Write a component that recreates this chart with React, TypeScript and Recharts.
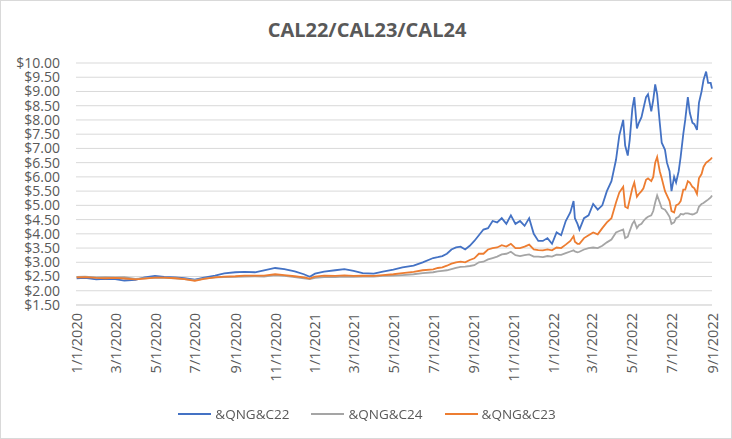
import React from 'react';
import { LineChart, Line, XAxis, YAxis, CartesianGrid } from 'recharts';

// trading dates (sampled from the curve)
const dates = [
  '2020-01-02', '2020-01-15', '2020-02-01', '2020-02-15', '2020-03-01', '2020-03-15',
  '2020-04-01', '2020-04-15', '2020-05-01', '2020-05-15', '2020-06-01', '2020-06-15',
  '2020-07-01', '2020-07-15', '2020-08-01', '2020-08-15', '2020-09-01', '2020-09-15',
  '2020-10-01', '2020-10-15', '2020-11-01', '2020-11-15', '2020-12-01', '2020-12-15',
  '2020-12-24',
  '2021-01-01', '2021-01-15', '2021-02-01', '2021-02-15', '2021-03-01', '2021-03-15',
  '2021-04-01', '2021-04-15', '2021-05-01', '2021-05-15', '2021-06-01', '2021-06-15',
  '2021-07-01', '2021-07-08', '2021-07-15', '2021-07-22', '2021-07-29', '2021-08-05',
  '2021-08-12', '2021-08-19', '2021-08-26', '2021-09-02', '2021-09-09', '2021-09-16',
  '2021-09-23', '2021-09-30', '2021-10-07', '2021-10-14', '2021-10-21', '2021-10-28',
  '2021-11-04', '2021-11-11', '2021-11-18', '2021-11-25', '2021-12-02', '2021-12-09',
  '2021-12-16', '2021-12-23', '2021-12-30',
  '2022-01-06', '2022-01-13', '2022-01-20', '2022-01-27', '2022-02-01', '2022-02-03',
  '2022-02-07', '2022-02-10', '2022-02-17', '2022-02-24', '2022-03-03', '2022-03-10',
  '2022-03-17', '2022-03-24', '2022-03-31', '2022-04-07', '2022-04-12', '2022-04-18',
  '2022-04-21', '2022-04-25', '2022-04-28', '2022-05-02', '2022-05-05', '2022-05-09',
  '2022-05-12', '2022-05-16', '2022-05-19', '2022-05-23', '2022-05-26', '2022-05-31',
  '2022-06-03', '2022-06-06', '2022-06-09', '2022-06-13', '2022-06-16', '2022-06-21',
  '2022-06-24', '2022-06-28', '2022-07-01', '2022-07-05', '2022-07-08', '2022-07-12',
  '2022-07-15', '2022-07-19', '2022-07-22', '2022-07-26', '2022-07-29', '2022-08-02',
  '2022-08-05', '2022-08-09', '2022-08-12', '2022-08-16', '2022-08-19', '2022-08-23',
  '2022-08-26', '2022-08-30', '2022-09-01',
];

const cal22 = [
  2.44, 2.45, 2.40, 2.42, 2.41, 2.36,
  2.38, 2.47, 2.52, 2.49, 2.47, 2.44,
  2.39, 2.46, 2.53, 2.61, 2.65, 2.66,
  2.65, 2.72, 2.80, 2.76, 2.68, 2.58,
  2.49,
  2.60, 2.67, 2.72, 2.76, 2.70, 2.62,
  2.60, 2.67, 2.74, 2.82, 2.88, 3.00,
  3.15, 3.18, 3.22, 3.30, 3.45, 3.52,
  3.55, 3.45, 3.58, 3.75, 3.95, 4.15,
  4.20, 4.45, 4.40, 4.55, 4.35, 4.65,
  4.35, 4.45, 4.28, 4.55, 4.00, 3.75,
  3.75, 3.85, 3.65,
  4.05, 3.95, 4.45, 4.75, 5.15, 4.55,
  4.35, 4.15, 4.55, 4.65, 5.05, 4.85,
  5.00, 5.50, 5.85, 6.60, 7.45, 8.00,
  7.10, 6.75, 7.30, 8.40, 8.80, 7.70,
  7.90, 8.10, 8.40, 8.80, 8.90, 8.30,
  8.70, 9.25, 8.90, 7.90, 7.20, 6.95,
  6.50, 6.20, 5.50, 6.00, 5.80, 6.20,
  6.70, 7.50, 8.00, 8.80, 8.25, 7.90,
  7.85, 7.65, 8.60, 9.00, 9.40, 9.70,
  9.30, 9.30, 9.10,
];

const cal23 = [
  2.47, 2.48, 2.45, 2.44, 2.45, 2.43,
  2.40, 2.43, 2.46, 2.46, 2.44, 2.41,
  2.35, 2.42, 2.47, 2.50, 2.51, 2.53,
  2.53, 2.53, 2.58, 2.55, 2.51, 2.47,
  2.43,
  2.50, 2.53, 2.52, 2.54, 2.52, 2.53,
  2.52, 2.55, 2.58, 2.62, 2.66, 2.72,
  2.75, 2.80, 2.82, 2.88, 2.95, 3.00,
  3.02, 3.00, 3.08, 3.14, 3.30, 3.30,
  3.45, 3.50, 3.52, 3.60, 3.55, 3.65,
  3.50, 3.50, 3.55, 3.62, 3.45, 3.43,
  3.42, 3.45, 3.42,
  3.52, 3.50, 3.62, 3.75, 3.92, 3.72,
  3.65, 3.65, 3.85, 3.95, 4.05, 3.98,
  4.20, 4.40, 4.55, 5.10, 5.45, 5.65,
  4.95, 4.90, 5.20, 5.60, 5.80, 5.30,
  5.40, 5.50, 5.60, 5.90, 5.95, 5.85,
  6.00, 6.50, 6.70, 6.20, 5.95, 5.50,
  5.35, 5.15, 4.80, 4.75, 5.00, 5.05,
  5.15, 5.55, 5.55, 5.85, 5.80, 5.65,
  5.60, 5.40, 5.95, 6.10, 6.35, 6.50,
  6.55, 6.62, 6.68,
];

const cal24 = [
  2.49, 2.50, 2.47, 2.48, 2.47, 2.48,
  2.42, 2.44, 2.46, 2.45, 2.44, 2.41,
  2.37, 2.43, 2.47, 2.48, 2.49, 2.50,
  2.51, 2.50, 2.55, 2.52, 2.48, 2.44,
  2.41,
  2.45, 2.48, 2.48, 2.50, 2.49, 2.50,
  2.50, 2.52, 2.53, 2.55, 2.58, 2.62,
  2.65, 2.68, 2.70, 2.72, 2.76, 2.80,
  2.84, 2.85, 2.87, 2.90, 3.00, 3.02,
  3.10, 3.15, 3.20, 3.28, 3.30, 3.37,
  3.25, 3.22, 3.25, 3.28, 3.20, 3.20,
  3.18, 3.22, 3.20,
  3.27, 3.26, 3.32, 3.38, 3.42, 3.38,
  3.35, 3.37, 3.45, 3.50, 3.52, 3.50,
  3.58, 3.70, 3.80, 4.05, 4.10, 4.15,
  3.85, 3.90, 4.10, 4.35, 4.45, 4.20,
  4.30, 4.35, 4.45, 4.55, 4.60, 4.65,
  4.80, 5.10, 5.35, 5.10, 4.90, 4.85,
  4.75, 4.60, 4.35, 4.40, 4.55, 4.60,
  4.70, 4.68, 4.72, 4.72, 4.70, 4.68,
  4.70, 4.75, 4.95, 5.05, 5.08, 5.15,
  5.20, 5.28, 5.35,
];

const tickDates = [
  '2020-01-01', '2020-03-01', '2020-05-01', '2020-07-01', '2020-09-01', '2020-11-01',
  '2021-01-01', '2021-03-01', '2021-05-01', '2021-07-01', '2021-09-01', '2021-11-01',
  '2022-01-01', '2022-03-01', '2022-05-01', '2022-07-01', '2022-09-01',
];
const tickLabels = [
  '1/1/2020', '3/1/2020', '5/1/2020', '7/1/2020', '9/1/2020', '11/1/2020',
  '1/1/2021', '3/1/2021', '5/1/2021', '7/1/2021', '9/1/2021', '11/1/2021',
  '1/1/2022', '3/1/2022', '5/1/2022', '7/1/2022', '9/1/2022',
];
const priceTicks = [1.5, 2, 2.5, 3, 3.5, 4, 4.5, 5, 5.5, 6, 6.5, 7, 7.5, 8, 8.5, 9, 9.5, 10];

const series = [
  { key: 'c22', name: '&QNG&C22', color: '#4472C4' },
  { key: 'c24', name: '&QNG&C24', color: '#A5A5A5' },
  { key: 'c23', name: '&QNG&C23', color: '#ED7D31' },
];

const toTime = (d: string) => new Date(d).getTime();

const chartData = dates.map((d, i) => ({
  t: toTime(d),
  c22: cal22[i],
  c23: cal23[i],
  c24: cal24[i],
}));

const tickTimes = tickDates.map(toTime);

const DateTick = ({ x, y, payload }: any) => {
  const idx = tickTimes.indexOf(payload.value);
  return (
    <text
      x={x}
      y={y}
      transform={`rotate(-90, ${x}, ${y})`}
      textAnchor="end"
      dominantBaseline="central"
      fill="#595959"
      fontSize={14.5}
    >
      {tickLabels[idx]}
    </text>
  );
};

export default function App() {
  return (
    <div
      style={{
        position: 'fixed',
        left: 0,
        top: 0,
        width: 732,
        height: 439,
        boxSizing: 'border-box',
        border: '1px solid #D9D9D9',
        background: '#fff',
        fontFamily: '"Open Sans", sans-serif',
      }}
    >
      <div
        style={{
          position: 'absolute',
          top: 18,
          left: 0,
          width: 732,
          textAlign: 'center',
          fontSize: 20,
          lineHeight: '22px',
          fontWeight: 'bold',
          color: '#595959',
        }}
      >
        CAL22/CAL23/CAL24
      </div>
      <div style={{ position: 'absolute', left: -1, top: -1 }}>
        <LineChart width={732} height={439} data={chartData} margin={{ top: 63, right: 20, bottom: 0, left: 0 }}>
          <CartesianGrid vertical={false} stroke="#D9D9D9" />
          <XAxis
            dataKey="t"
            type="number"
            scale="time"
            domain={[tickTimes[0], tickTimes[tickTimes.length - 1]]}
            ticks={tickTimes}
            interval={0}
            tick={<DateTick />}
            tickLine={false}
            axisLine={{ stroke: '#D9D9D9' }}
            height={134}
          />
          <YAxis
            domain={[1.5, 10]}
            ticks={priceTicks}
            interval={0}
            width={76}
            tickMargin={10}
            axisLine={false}
            tickLine={false}
            tick={{ fill: '#595959', fontSize: 14 }}
            tickFormatter={(v: number) => `$${v.toFixed(2)}`}
          />
          {series.map((s) => (
            <Line
              key={s.key}
              type="linear"
              dataKey={s.key}
              name={s.name}
              stroke={s.color}
              strokeWidth={1.8}
              dot={false}
              isAnimationActive={false}
            />
          ))}
        </LineChart>
      </div>
      <div
        style={{
          position: 'absolute',
          top: 403,
          left: 0,
          width: 732,
          display: 'flex',
          justifyContent: 'center',
          gap: 22,
          fontSize: 13.5,
          color: '#595959',
          lineHeight: '20px',
        }}
      >
        {series.map((s) => (
          <div key={s.key} style={{ display: 'flex', alignItems: 'center' }}>
            <span style={{ display: 'inline-block', width: 33, height: 2, background: s.color, marginRight: 4 }} />
            <span>{s.name}</span>
          </div>
        ))}
      </div>
    </div>
  );
}
